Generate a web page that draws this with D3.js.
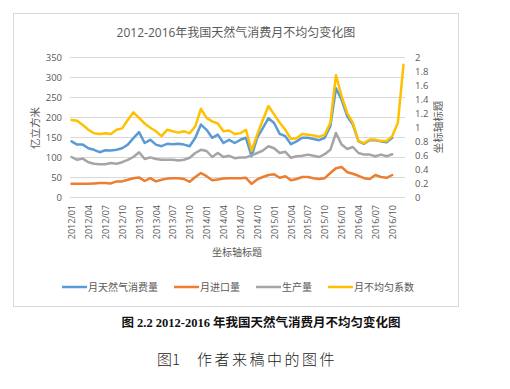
<!DOCTYPE html>
<html>
<head>
<meta charset="utf-8">
<script src="https://cdn.jsdelivr.net/npm/d3@7"></script>
<style>
  html, body { margin: 0; padding: 0; background: #fff; }
  svg { display: block; font-family: "Open Sans", "Noto Sans CJK SC", sans-serif; }
  .tick text { fill: #595959; }
</style>
</head>
<body>
<svg id="chart" width="510" height="389"></svg>
<script>
(function () {
  'use strict';

  const YEARS = ['2012', '2013', '2014', '2015', '2016'];
  const MONTH_NUMS = ['01', '02', '03', '04', '05', '06', '07', '08', '09', '10', '11', '12'];
  const MONTHS = YEARS.flatMap(y => MONTH_NUMS.map(m => y + '/' + m));

  // 亿立方米 (2012/01 .. 2016/10)
  const CONSUMPTION = [
    139, 131, 131, 122, 118, 112, 117, 116, 118, 122, 131, 147,
    162, 135, 143, 131, 127, 133, 132, 133, 131, 127, 148, 181,
    168, 148, 156, 135, 143, 135, 143, 148, 102, 148, 172, 197,
    185, 158, 152, 132, 139, 148, 148, 145, 142, 148, 177, 272,
    243, 202, 181, 139, 133, 142, 142, 139, 137, 148
  ];
  const IMPORTS = [
    33, 33, 33, 33, 34, 35, 35, 34, 39, 39, 43, 47,
    49, 40, 47, 39, 43, 46, 47, 47, 45, 38, 50, 60,
    52, 42, 44, 46, 47, 47, 47, 48, 33, 44, 50, 55,
    57, 48, 52, 42, 45, 50, 50, 47, 45, 47, 60, 72,
    75, 62, 58, 53, 47, 45, 55, 50, 48, 55
  ];
  const PRODUCTION = [
    100, 93, 96, 87, 83, 82, 82, 85, 83, 87, 93, 100,
    112, 95, 99, 95, 93, 93, 93, 91, 93, 98, 110, 118,
    115, 100, 110, 100, 103, 97, 99, 99, 104, 110, 116, 127,
    122, 110, 113, 98, 102, 103, 106, 103, 100, 107, 118, 160,
    131, 120, 125, 110, 106, 106, 102, 106, 102, 107
  ];
  // 月不均匀系数 (right axis), 2012/01 .. 2016/12
  const COEFFICIENT = [
    1.10, 1.09, 1.03, 0.96, 0.91, 0.90, 0.91, 0.90, 0.96, 0.98, 1.10, 1.21,
    1.13, 1.05, 0.99, 0.94, 0.87, 0.96, 0.94, 0.92, 0.94, 0.91, 1.01, 1.26,
    1.13, 1.08, 1.05, 0.94, 0.95, 0.90, 0.91, 0.96, 0.66, 0.89, 1.10, 1.30,
    1.18, 1.06, 0.96, 0.83, 0.84, 0.90, 0.89, 0.88, 0.86, 0.89, 1.06, 1.74,
    1.44, 1.20, 1.06, 0.80, 0.77, 0.82, 0.82, 0.80, 0.80, 0.87, 1.06, 1.89
  ];

  const LEFT_TICKS = [0, 50, 100, 150, 200, 250, 300, 350];
  const RIGHT_TICKS = [0, 0.2, 0.4, 0.6, 0.8, 1, 1.2, 1.4, 1.6, 1.8, 2];
  const RIGHT_TICK_LABELS = ['0', '0.2', '0.4', '0.6', '0.8', '1', '1.2', '1.4', '1.6', '1.8', '2'];
  const X_TICKS = MONTHS.filter((m, i) => i % 3 === 0);

  const SERIES = [
    { name: '月天然气消费量', values: CONSUMPTION, axis: 'left', color: '#5b9bd5' },
    { name: '月进口量', values: IMPORTS, axis: 'left', color: '#ed7d31' },
    { name: '生产量', values: PRODUCTION, axis: 'left', color: '#a5a5a5' },
    { name: '月不均匀系数', values: COEFFICIENT, axis: 'right', color: '#ffc000' }
  ];

  const TEXT = '#595959';
  const GRID = '#d9d9d9';
  const plot = { left: 70, right: 405, top: 57, bottom: 197 };

  const svg = d3.select('#chart');

  // chart frame
  svg.append('rect')
    .attr('x', 13.5).attr('y', 13.5).attr('width', 445).attr('height', 293)
    .attr('fill', '#fff').attr('stroke', GRID);

  svg.append('text')
    .attr('x', 236).attr('y', 37)
    .attr('text-anchor', 'middle')
    .attr('font-size', 12)
    .attr('fill', TEXT)
    .text('2012-2016年我国天然气消费月不均匀变化图');

  const x = d3.scalePoint().domain(MONTHS).range([71.5, 403.5]);
  const yL = d3.scaleLinear().domain([0, 350]).range([plot.bottom, plot.top]);
  const yR = d3.scaleLinear().domain([0, 2]).range([plot.bottom, plot.top]);

  // gridlines
  svg.append('g').selectAll('line')
    .data(LEFT_TICKS)
    .join('line')
    .attr('x1', plot.left).attr('x2', plot.right)
    .attr('y1', d => Math.round(yL(d)) + 0.5).attr('y2', d => Math.round(yL(d)) + 0.5)
    .attr('stroke', GRID).attr('stroke-width', 1);

  const leftAxis = svg.append('g')
    .attr('transform', `translate(${plot.left},0)`)
    .call(d3.axisLeft(yL).tickValues(LEFT_TICKS).tickSize(0).tickPadding(8));
  leftAxis.select('.domain').remove();
  leftAxis.selectAll('text').attr('font-size', 9.5).attr('font-family', '"Open Sans", sans-serif');

  const rightAxis = svg.append('g')
    .attr('transform', `translate(${plot.right},0)`)
    .call(d3.axisRight(yR).tickValues(RIGHT_TICKS).tickSize(0).tickPadding(10)
      .tickFormat((d, i) => RIGHT_TICK_LABELS[i]));
  rightAxis.select('.domain').remove();
  rightAxis.selectAll('text').attr('font-size', 9.5).attr('font-family', '"Open Sans", sans-serif');

  const bottomAxis = svg.append('g')
    .attr('transform', `translate(0,${plot.bottom})`)
    .call(d3.axisBottom(x).tickValues(X_TICKS).tickSize(0));
  bottomAxis.select('.domain').remove();
  bottomAxis.selectAll('text')
    .attr('font-size', 9)
    .attr('font-family', '"Open Sans", sans-serif')
    .attr('transform', 'rotate(-90)')
    .attr('x', -8).attr('y', 0).attr('dy', '0.35em')
    .style('text-anchor', 'end');

  // axis titles
  svg.append('text')
    .attr('transform', 'translate(39,128) rotate(-90)')
    .attr('text-anchor', 'middle')
    .attr('font-size', 10.5).attr('fill', TEXT)
    .text('亿立方米');

  svg.append('text')
    .attr('transform', 'translate(442,127) rotate(-90)')
    .attr('text-anchor', 'middle')
    .attr('font-size', 10.5).attr('fill', TEXT)
    .text('坐标轴标题');

  svg.append('text')
    .attr('x', 237).attr('y', 256)
    .attr('text-anchor', 'middle')
    .attr('font-size', 10).attr('fill', TEXT)
    .text('坐标轴标题');

  // series lines
  const lines = svg.append('g').attr('class', 'lines');
  SERIES.forEach(s => {
    const yScale = s.axis === 'left' ? yL : yR;
    const line = d3.line()
      .x((d, i) => x(MONTHS[i]))
      .y(d => yScale(d));
    lines.append('path')
      .datum(s.values)
      .attr('d', line)
      .attr('fill', 'none')
      .attr('stroke', s.color)
      .attr('stroke-width', 2.5)
      .attr('stroke-linejoin', 'round')
      .attr('stroke-linecap', 'round');
  });

  // legend
  const legend = svg.append('g').attr('class', 'legend');
  let lx = 62;
  const ly = 287;
  SERIES.forEach(s => {
    legend.append('line')
      .attr('x1', lx).attr('x2', lx + 25)
      .attr('y1', ly).attr('y2', ly)
      .attr('stroke', s.color).attr('stroke-width', 2.5);
    const t = legend.append('text')
      .attr('x', lx + 26).attr('y', ly).attr('dy', '0.35em')
      .attr('font-size', 10).attr('fill', TEXT)
      .text(s.name);
    lx += 26 + t.node().getComputedTextLength() + 16;
  });

  // captions below the chart frame
  svg.append('text')
    .attr('x', 261).attr('y', 327)
    .attr('text-anchor', 'middle')
    .attr('font-size', 12.5).attr('font-weight', 600)
    .attr('font-family', '"Liberation Serif", "Noto Sans CJK SC", serif')
    .attr('fill', '#111')
    .text('图 2.2 2012-2016 年我国天然气消费月不均匀变化图');

  const cap = svg.append('text')
    .attr('y', 365)
    .attr('font-size', 15).attr('font-weight', 300)
    .attr('font-family', '"Noto Sans CJK SC", serif')
    .attr('fill', '#222');
  cap.append('tspan').attr('x', 157).text('图1');
  cap.append('tspan').attr('x', 197).attr('letter-spacing', 2.5).text('作者来稿中的图件');
})();
</script>
</body>
</html>
